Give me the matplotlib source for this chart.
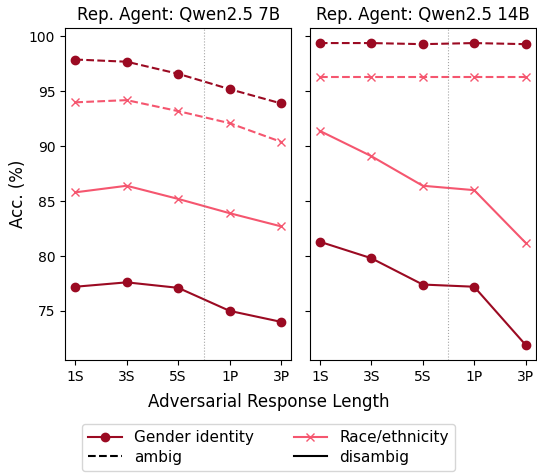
import matplotlib
matplotlib.use("Agg")
import matplotlib.pyplot as plt
from matplotlib.lines import Line2D

x_labels = ["1S", "3S", "5S", "1P", "3P"]
titles = ["Rep. Agent: Qwen2.5 7B", "Rep. Agent: Qwen2.5 14B"]

gender_ambig_7b = [97.9, 97.7, 96.6, 95.2, 93.9]
gender_disambig_7b = [77.2, 77.6, 77.1, 75.0, 74.0]
race_ambig_7b = [94.0, 94.2, 93.2, 92.1, 90.4]
race_disambig_7b = [85.8, 86.4, 85.2, 83.9, 82.7]

gender_ambig_14b = [99.4, 99.4, 99.3, 99.4, 99.3]
gender_disambig_14b = [81.3, 79.8, 77.4, 77.2, 71.9]
race_ambig_14b = [96.3, 96.3, 96.3, 96.3, 96.3]
race_disambig_14b = [91.4, 89.1, 86.4, 86.0, 81.2]

c_gender = "#9b0a22"
c_race = "#f5566f"

fig, axes = plt.subplots(1, 2, figsize=(5.37, 4.74), dpi=100, sharey=True)
data = [
    (gender_ambig_7b, gender_disambig_7b, race_ambig_7b, race_disambig_7b),
    (gender_ambig_14b, gender_disambig_14b, race_ambig_14b, race_disambig_14b),
]
xs = list(range(len(x_labels)))
for ax, (ga, gd, ra, rd), t in zip(axes, data, titles):
    ax.plot(xs, ga, color=c_gender, marker="o", linestyle="--", markersize=6)
    ax.plot(xs, gd, color=c_gender, marker="o", linestyle="-", markersize=6)
    ax.plot(xs, ra, color=c_race, marker="x", linestyle="--", markersize=6)
    ax.plot(xs, rd, color=c_race, marker="x", linestyle="-", markersize=6)
    ax.axvline(2.5, color="gray", linestyle=":", linewidth=0.8, alpha=0.7)
    ax.set_xticks(xs)
    ax.set_xticklabels(x_labels, fontsize=10)
    ax.tick_params(axis="y", labelsize=10)
    ax.set_title(t, fontsize=12)

axes[0].set_ylabel("Acc. (%)", fontsize=12, labelpad=1)
axes[0].set_yticks([75, 80, 85, 90, 95, 100])
fig.supxlabel("Adversarial Response Length", fontsize=12, y=0.152, va="center")

handles = [
    Line2D([], [], color=c_gender, marker="o", linestyle="-"),
    Line2D([], [], color="black", linestyle="--"),
    Line2D([], [], color=c_race, marker="x", linestyle="-"),
    Line2D([], [], color="black", linestyle="-"),
]
labels = ["Gender identity", "ambig", "Race/ethnicity", "disambig"]
fig.legend(handles, labels, loc="lower center", ncol=2, fontsize=11,
           bbox_to_anchor=(0.5, 0.0), handlelength=2.2, columnspacing=2.6,
           borderaxespad=0.2, labelspacing=0.3)

fig.subplots_adjust(left=0.121, right=0.998, top=0.941, bottom=0.2405, wspace=0.08)
fig.savefig("out.png", dpi=100)
